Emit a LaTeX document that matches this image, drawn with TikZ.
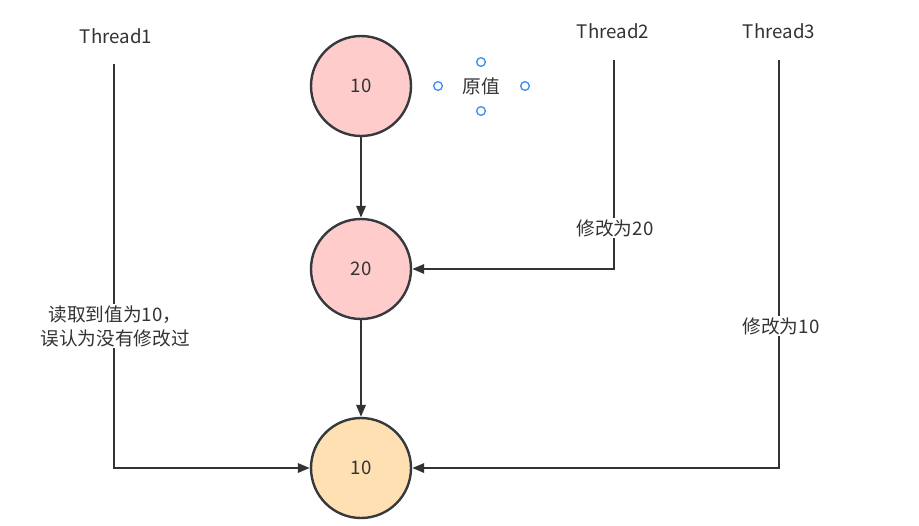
\documentclass[tikz,border=0pt]{standalone}
\usepackage{fontspec}
\setmainfont{Noto Sans CJK SC}
\usetikzlibrary{arrows.meta}
\definecolor{txt}{HTML}{333333}
\definecolor{ln}{HTML}{333333}
\definecolor{pinkf}{HTML}{FFCCCC}
\definecolor{orangef}{HTML}{FFE0B2}
\definecolor{cstroke}{HTML}{36393D}
\definecolor{handle}{HTML}{3D8FF5}
\begin{document}
\begin{tikzpicture}[x=0.75pt,y=-0.75pt,
  circ/.style={circle,draw=cstroke,line width=1.8pt,minimum size=75pt,inner sep=0pt,font=\fontsize{14pt}{16pt}\selectfont,text=txt},
  lbl/.style={font=\fontsize{14pt}{18pt}\selectfont,text=txt,fill=white,inner sep=1pt,align=center},
  conn/.style={draw=ln,line width=1.7pt},
  arr/.style={conn,-{Triangle[length=9pt,width=7pt]}},
  hnd/.style={circle,draw=handle,line width=1pt,minimum size=6.5pt,inner sep=0pt,fill=white}]
\useasboundingbox (0,0) rectangle (919,525);
\fill[white] (0,0) rectangle (919,525);
% circles
\node[circ,fill=pinkf] (c1) at (361,86) {10};
\node[circ,fill=pinkf] (c2) at (361,269) {20};
\node[circ,fill=orangef] (c3) at (361,468) {10};
% thread labels
\node[lbl] (th1) at (116,36) {Thread1};
\node[lbl] (th2) at (613,31) {Thread2};
\node[lbl] (th3) at (779,31) {Thread3};
% coordinates
\coordinate (t1a) at (114,64);
\coordinate (t1b) at (114,468);
\coordinate (t2a) at (614,60);
\coordinate (t2b) at (614,269);
\coordinate (t3a) at (779,60);
\coordinate (t3b) at (779,468);
% connectors
\draw[arr] (c1) -- (c2);
\draw[arr] (c2) -- (c3);
\draw[arr] (t1a) -- (t1b) -- (c3.west);
\draw[arr] (t2a) -- (t2b) -- (c2.east);
\draw[arr] (t3a) -- (t3b) -- (c3.east);
% labels on lines
\node[lbl] (l1) at (115,326) {读取到值为10，\\误认为没有修改过};
\node[lbl] (l2) at (615,228) {修改为20};
\node[lbl] (l3) at (781,326) {修改为10};
% selected text with handles
\node[lbl] (yz) at (481,86) {原值};
\node[hnd] (h1) at (438,86) {};
\node[hnd] (h2) at (525,86) {};
\node[hnd] (h3) at (481,62) {};
\node[hnd] (h4) at (481,111) {};
\end{tikzpicture}
\end{document}
